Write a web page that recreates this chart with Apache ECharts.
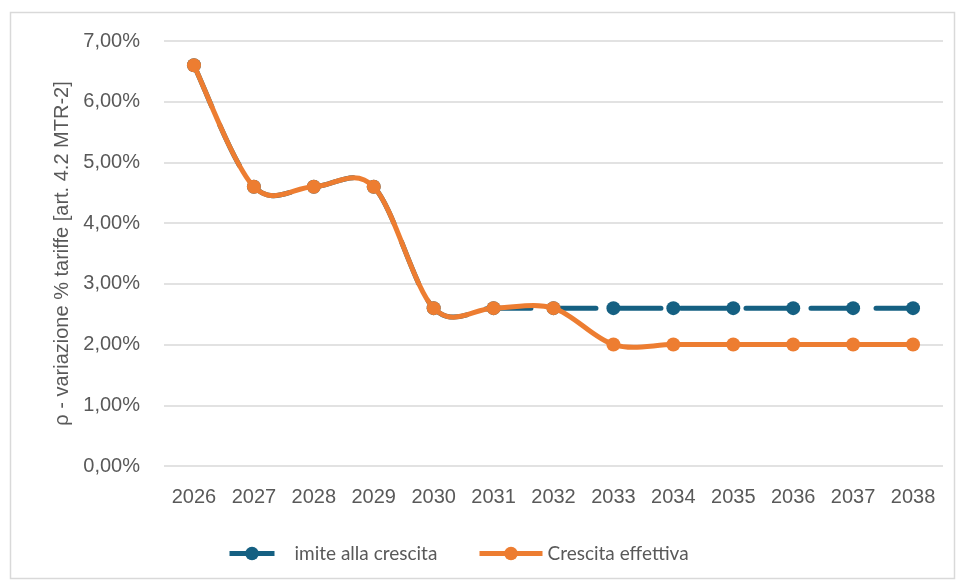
<!DOCTYPE html>
<html>
<head>
<meta charset="utf-8">
<script src="https://cdn.jsdelivr.net/npm/echarts@6/dist/echarts.min.js"></script>
<style>
  html, body { margin: 0; padding: 0; background: #fff; }
  #chart { width: 957px; height: 580px; }
</style>
</head>
<body>
<div id="chart"></div>
<script>
// Anni del periodo regolatorio
var years = ['2026', '2027', '2028', '2029', '2030', '2031', '2032', '2033', '2034', '2035', '2036', '2037', '2038'];
// Valori in punti percentuali
var limiteCrescita = [6.6, 4.6, 4.6, 4.6, 2.6, 2.6, 2.6, 2.6, 2.6, 2.6, 2.6, 2.6, 2.6];
var crescitaEffettiva = [6.6, 4.6, 4.6, 4.6, 2.6, 2.6, 2.6, 2.0, 2.0, 2.0, 2.0, 2.0, 2.0];
var seriesNames = ['imite alla crescita', 'Crescita effettiva'];
var yAxisTitle = 'ρ - variazione % tariffe [art. 4.2 MTR-2]';

var BLUE = '#156082';
var ORANGE = '#ED7D31';
var GREY_TEXT = '#595959';

function pct(v) {
  return v.toFixed(2).replace('.', ',') + '%';
}

// Curva liscia tipo Catmull-Rom (tensione 1/6) passante per i punti in pixel
function smoothPathData(pts) {
  var n = pts.length;
  var d = 'M' + pts[0][0] + ' ' + pts[0][1];
  for (var i = 0; i < n - 1; i++) {
    var p0 = pts[Math.max(i - 1, 0)];
    var p1 = pts[i];
    var p2 = pts[i + 1];
    var p3 = pts[Math.min(i + 2, n - 1)];
    var c1x = p1[0] + (p2[0] - p0[0]) / 6;
    var c1y = p1[1] + (p2[1] - p0[1]) / 6;
    var c2x = p2[0] - (p3[0] - p1[0]) / 6;
    var c2y = p2[1] - (p3[1] - p1[1]) / 6;
    d += ' C' + c1x + ' ' + c1y + ' ' + c2x + ' ' + c2y + ' ' + p2[0] + ' ' + p2[1];
  }
  return d;
}

function smoothLineSeries(values, color, dash, z) {
  return {
    type: 'custom',
    coordinateSystem: 'cartesian2d',
    data: [[0, values[0]]],
    silent: true,
    z: z,
    renderItem: function (params, api) {
      var pts = values.map(function (v, i) { return api.coord([i, v]); });
      return {
        type: 'path',
        shape: { pathData: smoothPathData(pts) },
        style: {
          fill: 'none',
          stroke: color,
          lineWidth: 5,
          lineDash: dash,
          lineCap: 'round',
          lineJoin: 'round'
        }
      };
    }
  };
}

function markerSeries(name, values, color, z) {
  return {
    name: name,
    type: 'line',
    data: values,
    symbol: 'circle',
    symbolSize: 14,
    itemStyle: { color: color },
    lineStyle: { color: color, width: 5, opacity: 0 },
    z: z
  };
}

var chart = echarts.init(document.getElementById('chart'));
chart.setOption({
  animation: false,
  backgroundColor: '#fff',
  graphic: [{
    type: 'rect',
    shape: { x: 10.5, y: 12.5, width: 944, height: 566 },
    style: { fill: 'none', stroke: '#d9d9d9', lineWidth: 1.5 },
    silent: true,
    z: -1
  }],
  grid: { left: 164, right: 14, top: 41, bottom: 114, containLabel: false },
  legend: [{
    data: [seriesNames[0]],
    left: 222,
    top: 539,
    itemWidth: 45,
    itemHeight: 17,
    lineStyle: { type: 'solid', opacity: 1, width: 5 },
    textStyle: { color: GREY_TEXT, fontSize: 19, fontFamily: 'Lato', padding: [0, 0, 0, 15] }
  }, {
    data: [seriesNames[1]],
    left: 472,
    top: 539,
    itemWidth: 63,
    itemHeight: 17,
    lineStyle: { type: 'solid', opacity: 1, width: 5 },
    textStyle: { color: GREY_TEXT, fontSize: 19, fontFamily: 'Lato' }
  }],
  xAxis: {
    type: 'category',
    data: years,
    boundaryGap: true,
    axisLine: { show: false },
    axisTick: { show: false },
    axisLabel: { color: GREY_TEXT, fontSize: 20, fontFamily: 'Liberation Sans', margin: 21 }
  },
  yAxis: {
    type: 'value',
    min: 0,
    max: 7,
    interval: 1,
    name: yAxisTitle,
    nameLocation: 'middle',
    nameGap: 92,
    nameRotate: 90,
    nameTextStyle: { color: GREY_TEXT, fontSize: 20, fontFamily: 'Liberation Sans' },
    axisLine: { show: false },
    axisTick: { show: false },
    axisLabel: { color: GREY_TEXT, fontSize: 20, fontFamily: 'Liberation Sans', margin: 24, formatter: pct },
    splitLine: { lineStyle: { color: '#d9d9d9', width: 1.5 } }
  },
  series: [
    smoothLineSeries(limiteCrescita, BLUE, [45, 20], 1),
    markerSeries(seriesNames[0], limiteCrescita, BLUE, 2),
    smoothLineSeries(crescitaEffettiva, ORANGE, null, 3),
    markerSeries(seriesNames[1], crescitaEffettiva, ORANGE, 4)
  ]
});
</script>
</body>
</html>
